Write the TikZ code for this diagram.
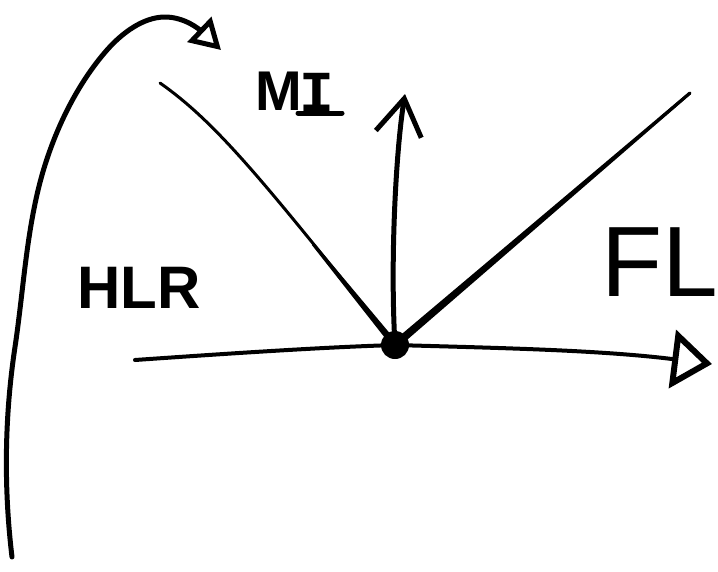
\documentclass[tikz,border=0pt]{standalone}
\usepackage{fontspec}
\setmainfont{Liberation Sans}
\newfontfamily\monofnt{Liberation Mono}
\usetikzlibrary{arrows.meta,calc}
\begin{document}
\begin{tikzpicture}[x=1pt,y=-1pt,
  ink/.style={line width=3pt, line cap=round, line join=round, black},
  thickink/.style={line width=5pt, line cap=round, line join=round, black},
  lbl/.style={inner sep=0pt},
  dotnode/.style={circle, fill=black, minimum size=28pt, inner sep=0pt}]
\useasboundingbox (0,0) rectangle (718,571);
% origin point
\node[dotnode] (o) at (395,345) {};
% free ends
\coordinate (curvestart) at (12,557);
\coordinate (curveend) at (221,50);
\coordinate (leftend) at (160,83);
\coordinate (leftmid) at (313,244);
\coordinate (rightend) at (690,93);
\coordinate (upend) at (405,94);
\coordinate (hleft) at (135,360);
\coordinate (hright) at (712,364);
% big curved arrow
\draw[thickink, -{Triangle[open, length=30pt, width=34pt, line width=5pt]}]
  (curvestart) .. controls (3.6,487) and (4.6,416) .. (15,347)
  .. controls (24,287) and (26.7,223) .. (45,165)
  .. controls (57.9,124) and (78.6,82.3) .. (107,50)
  .. controls (121.5,33.5) and (143,17) .. (165,17)
  .. controls (185,17) and (200,30) .. (curveend);
% left line (thin, tapering thicker near the point)
\draw[ink] (leftend) .. controls (220,125) and (270,190) .. (o.center);
\fill[black] ($(leftmid)!1.5pt!90:(o.center)$) -- ($(o.center)!3.5pt!-90:(leftmid)$)
  -- ($(o.center)!3.5pt!90:(leftmid)$) -- ($(leftmid)!1.5pt!-90:(o.center)$) -- cycle;
% right line (tapering)
\draw[ink] (rightend) -- ($(rightend)!0.1!(o.center)$);
\fill[black] ($(rightend)!1.5pt!90:(o.center)$) -- ($(o.center)!4pt!-90:(rightend)$)
  -- ($(o.center)!4pt!90:(rightend)$) -- ($(rightend)!1.5pt!-90:(o.center)$) -- cycle;
% vertical arrow
\draw[thickink, -{Straight Barb[length=36pt, width=46pt, line width=5pt]}]
  (o.center) .. controls (390,260) and (396,150) .. (upend);
% horizontal axis
\draw[ink, line width=4pt] (hleft) .. controls (250,352) and (330,347) .. (o.center);
\draw[ink, line width=4pt, -{Triangle[open, length=40pt, width=58pt, line width=6pt]}]
  (o.center) .. controls (500,348) and (600,350) .. (hright);
% labels
\node[lbl, font=\fontsize{56}{56}\selectfont\bfseries] (m) at (279,91) {M};
\node[lbl, anchor=base, font=\fontsize{58}{58}\selectfont\monofnt\bfseries] (i) at (317,111) {I};
\draw[thickink] ([xshift=-19pt,yshift=-2pt]i.base) -- ([xshift=25pt,yshift=-2pt]i.base);
\node[lbl, font=\fontsize{60}{60}\selectfont\bfseries] (hlr) at (139,288) {HLR};
\node[lbl, font=\fontsize{100}{100}\selectfont] (fl) at (660,262) {FL};
\end{tikzpicture}
\end{document}
